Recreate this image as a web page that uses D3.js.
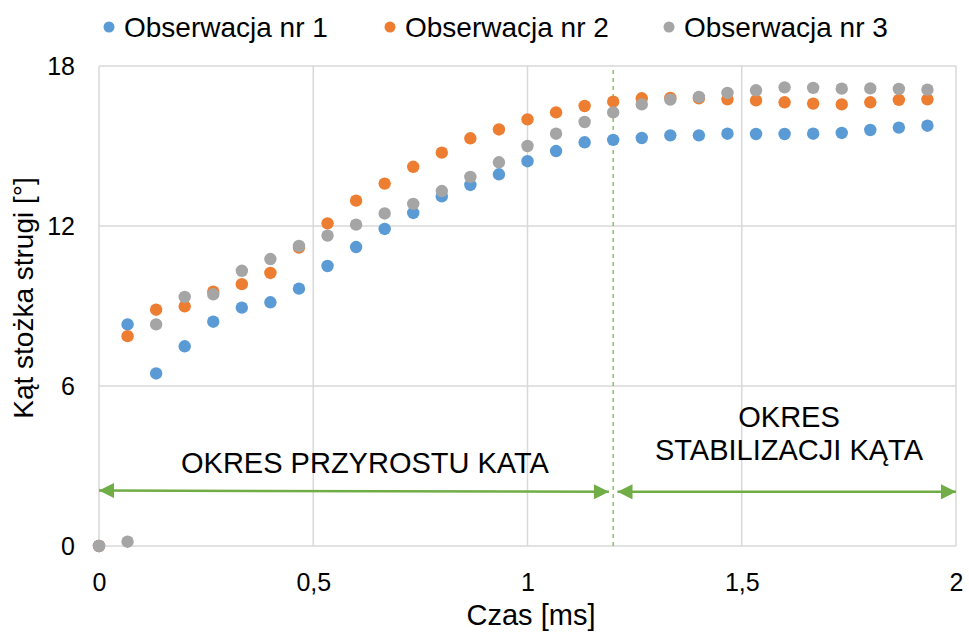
<!DOCTYPE html>
<html><head><meta charset="utf-8">
<script src="https://cdn.jsdelivr.net/npm/d3@7"></script>
<style>body{margin:0;background:#fff}svg{font-family:"Liberation Sans",Arial,sans-serif}</style>
</head><body>
<svg id="c" width="969" height="640"></svg>
<script>
const times = d3.range(30).map(k => k / 15);
const obs1 = [0, 8.31, 6.47, 7.49, 8.41, 8.94, 9.14, 9.65, 10.5, 11.21, 11.89, 12.49, 13.11, 13.54, 13.94, 14.43, 14.81, 15.14, 15.23, 15.3, 15.4, 15.4, 15.46, 15.45, 15.45, 15.46, 15.49, 15.6, 15.69, 15.76];
const obs2 = [0, 7.87, 8.86, 8.99, 9.54, 9.82, 10.24, 11.19, 12.1, 12.95, 13.59, 14.22, 14.75, 15.29, 15.62, 16.0, 16.26, 16.5, 16.66, 16.79, 16.8, 16.79, 16.75, 16.71, 16.64, 16.59, 16.56, 16.64, 16.73, 16.75];
const obs3 = [0, 0.16, 8.31, 9.34, 9.44, 10.32, 10.76, 11.25, 11.64, 12.05, 12.47, 12.83, 13.31, 13.84, 14.39, 15.0, 15.46, 15.9, 16.26, 16.56, 16.74, 16.84, 16.99, 17.09, 17.2, 17.18, 17.15, 17.16, 17.14, 17.11];
const seriesNames = ["Obserwacja nr 1", "Obserwacja nr 2", "Obserwacja nr 3"];
const colors = ["#5b9bd5", "#ed7d31", "#a5a5a5"];
const xTicks = [0, 0.5, 1, 1.5, 2];
const yTicks = [0, 6, 12, 18];
const splitTime = 1.2;
const arrowLeft = [[0, 2.08], [1.19, 2.03]];
const arrowRight = [[1.21, 2.03], [2, 2.03]];

const svg = d3.select("#c");
const x = d3.scaleLinear().domain([0, 2]).range([99, 956]);
const y = d3.scaleLinear().domain([0, 18]).range([546, 66]);
const fmt = d => String(d).replace(".", ",");

// grid
svg.append("g").selectAll("line").data(xTicks).join("line")
  .attr("x1", d => x(d)).attr("x2", d => x(d)).attr("y1", y(0)).attr("y2", y(18))
  .attr("stroke", "#d9d9d9").attr("stroke-width", 1.5);
svg.append("g").selectAll("line").data(yTicks).join("line")
  .attr("x1", x(0)).attr("x2", x(2)).attr("y1", d => y(d)).attr("y2", d => y(d))
  .attr("stroke", "#d9d9d9").attr("stroke-width", 1.5);

// axes labels
const xa = svg.append("g").attr("transform", `translate(0,${y(0)})`)
  .call(d3.axisBottom(x).tickValues(xTicks).tickFormat(fmt).tickSize(0).tickPadding(27));
xa.select(".domain").remove();
xa.selectAll("text").attr("font-size", 25).attr("fill", "#000").attr("font-family", "Liberation Sans, Arial, sans-serif");
const ya = svg.append("g").attr("transform", `translate(${x(0)},0)`)
  .call(d3.axisLeft(y).tickValues(yTicks).tickSize(0).tickPadding(24));
ya.select(".domain").remove();
ya.selectAll("text").attr("font-size", 25).attr("fill", "#000").attr("font-family", "Liberation Sans, Arial, sans-serif");

svg.append("text").attr("x", 531).attr("y", 625).attr("text-anchor", "middle")
  .attr("font-size", 29).text("Czas [ms]");
svg.append("text").attr("transform", `translate(33,${y(9.3)}) rotate(-90)`).attr("text-anchor", "middle")
  .attr("font-size", 28).text("Kąt stożka strugi [°]");

// split line
svg.append("line").attr("x1", x(splitTime)).attr("x2", x(splitTime)).attr("y1", y(0)).attr("y2", y(18))
  .attr("stroke", "#8cc168").attr("stroke-width", 1.5).attr("stroke-dasharray", "4,4");

// arrows
const defs = svg.append("defs");
defs.append("marker").attr("id", "ah").attr("viewBox", "0 0 10 10").attr("refX", 10).attr("refY", 5)
  .attr("markerWidth", 6.4).attr("markerHeight", 6).attr("markerUnits", "strokeWidth").attr("orient", "auto-start-reverse")
  .append("path").attr("d", "M0,0 L10,5 L0,10 Z").attr("fill", "#70ad47");
[arrowLeft, arrowRight].forEach(a => {
  svg.append("line").attr("x1", x(a[0][0])).attr("y1", y(a[0][1])).attr("x2", x(a[1][0])).attr("y2", y(a[1][1]))
    .attr("stroke", "#70ad47").attr("stroke-width", 2.5)
    .attr("marker-start", "url(#ah)").attr("marker-end", "url(#ah)");
});

svg.append("text").attr("x", 365).attr("y", 473).attr("text-anchor", "middle").attr("font-size", 29).text("OKRES PRZYROSTU KATA");
svg.append("text").attr("x", 789).attr("y", 427).attr("text-anchor", "middle").attr("font-size", 29).text("OKRES");
svg.append("text").attr("x", 789).attr("y", 460).attr("text-anchor", "middle").attr("font-size", 29).text("STABILIZACJI KĄTA");

// points
[obs1, obs2, obs3].forEach((vals, i) => {
  svg.append("g").selectAll("circle").data(vals).join("circle")
    .attr("cx", (d, j) => x(times[j])).attr("cy", d => y(d)).attr("r", 6.2)
    .attr("fill", colors[i]);
});

// legend
const lx = [109, 390, 669];
seriesNames.forEach((n, i) => {
  svg.append("circle").attr("cx", lx[i]).attr("cy", 27).attr("r", 5.5).attr("fill", colors[i]);
  svg.append("text").attr("x", lx[i] + 15).attr("y", 37).attr("font-size", 28).text(n);
});
</script>
</body></html>
